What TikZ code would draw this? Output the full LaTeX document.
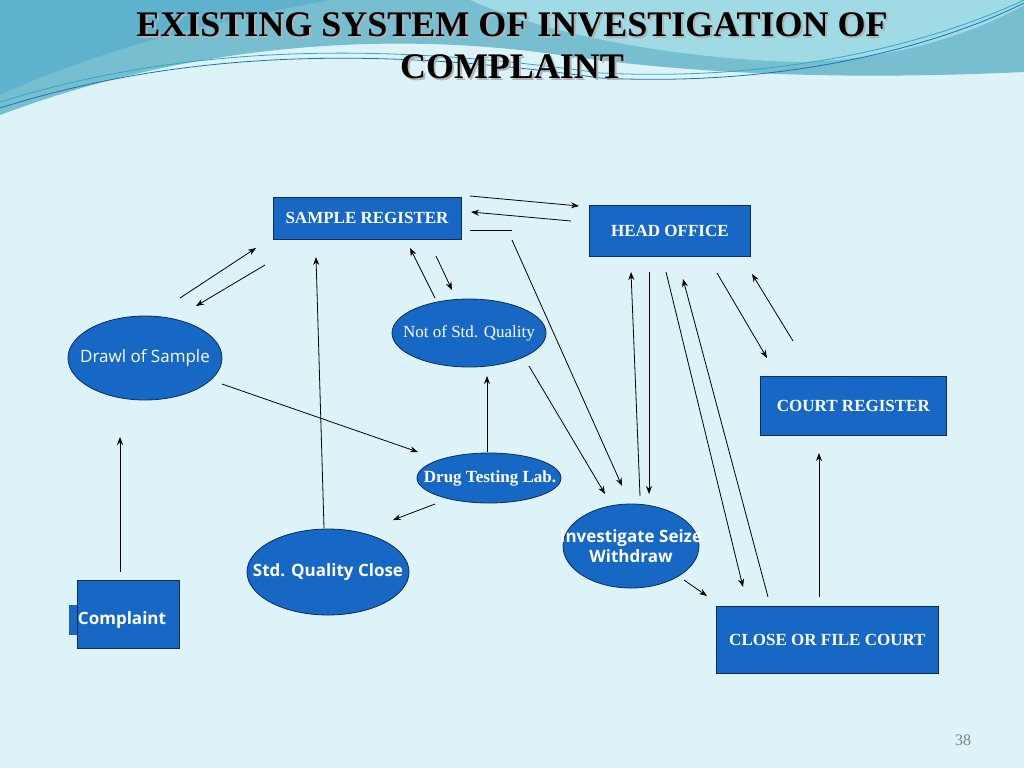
\documentclass[tikz,border=0pt]{standalone}
\usepackage{fontspec}
\setmainfont{Liberation Serif}
\newfontfamily\osans{Open Sans}
\usetikzlibrary{arrows.meta,shapes.geometric}
\definecolor{bg}{HTML}{DDF3F8}
\definecolor{nb}{HTML}{1668C4}
\definecolor{nbd}{HTML}{0D2D5A}
\tikzset{
 box/.style={draw=nbd,fill=nb,rectangle,line width=0.8pt,text=white,font=\fontsize{17}{20}\selectfont\bfseries},
 ell/.style={draw=nbd,fill=nb,ellipse,line width=0.8pt,inner sep=0pt},
 lbl/.style={text=white,align=center},
 ar/.style={-{Stealth[length=8pt,width=6pt]},line width=0.8pt},
 ttl/.style={font=\fontsize{36}{40}\selectfont\bfseries},
}
\begin{document}
\begin{tikzpicture}[x=1pt,y=-1pt]
\fill[bg] (0,0) rectangle (1024,768);
\useasboundingbox (0,0) rectangle (1024,768);
\fill[color={rgb,255:red,118;green,190;blue,208}] (0,0)--(1024,0)--(1024,72) .. controls (850,80) and (700,75) .. (560,55) .. controls (400,32) and (200,40) .. (0,115) -- cycle;
\fill[color={rgb,255:red,160;green,218;blue,228}] (470,0) .. controls (560,40) and (700,60) .. (800,62) .. controls (900,60) and (980,30) .. (1024,5) -- (1024,0) -- cycle;
\fill[color={rgb,255:red,95;green,178;blue,205}] (0,0)--(330,0) .. controls (250,15) and (120,40) .. (0,95) -- cycle;
\draw[color={rgb,255:red,30;green,110;blue,190},line width=0.8pt] (0,108) .. controls (200,45) and (400,50) .. (600,78) .. controls (800,88) and (950,40) .. (1024,3);
\draw[color={rgb,255:red,40;green,170;blue,200},line width=0.8pt] (0,102) .. controls (200,40) and (400,45) .. (600,73) .. controls (800,83) and (950,35) .. (1024,0);
\node[ttl,text=gray!60] at (514,27) {EXISTING SYSTEM OF INVESTIGATION OF};
\node[ttl,text=gray!60] at (514,69) {COMPLAINT};
\node (t1) [ttl] at (512,25) {EXISTING SYSTEM OF INVESTIGATION OF};
\node (t2) [ttl] at (512,67) {COMPLAINT};

\node (sr) [box,minimum width=188pt,minimum height=42pt,anchor=north west] at (273,197) {};
\node (srt) [lbl,font=\fontsize{17}{20}\selectfont\bfseries] at (367,218) {SAMPLE REGISTER};
\node (ho) [box,minimum width=161pt,minimum height=51pt,anchor=north west] at (589,205) {HEAD OFFICE};
\node (cr) [box,minimum width=186pt,minimum height=59pt,anchor=north west] at (760,376) {COURT REGISTER};
\node (cf) [box,minimum width=222pt,minimum height=67pt,anchor=north west] at (716,606) {CLOSE OR FILE COURT};
\fill[nb] (69,605) rectangle (78,635);
\node (cp) [box,minimum width=102pt,minimum height=68pt,anchor=north west] at (77,580) {};
\node (cpt) [lbl,font=\osans\fontsize{17}{20}\selectfont\bfseries] at (122,620) {Complaint};

\node (ds) [ell,minimum width=154pt,minimum height=84pt] at (145,358) {};
\node [lbl,font=\osans\fontsize{17}{20}\selectfont] at (145,358) {Drawl of Sample};
\node (ns) [ell,minimum width=154pt,minimum height=68pt] at (469,333) {};
\node [lbl,font=\fontsize{17}{20}\selectfont] at (469,333) {Not of Std. Quality};
\node (dl) [ell,minimum width=144pt,minimum height=50pt] at (489,478) {};
\node [lbl,font=\fontsize{17}{20}\selectfont\bfseries] at (490,478) {Drug Testing Lab.};
\node (iw) [ell,minimum width=136pt,minimum height=84pt] at (631,546) {};
\node [lbl,font=\osans\fontsize{17}{20}\selectfont\bfseries] at (631,546) {Investigate Seize\\Withdraw};
\node (sq) [ell,minimum width=162pt,minimum height=86pt] at (328,572) {};
\node [lbl,font=\osans\fontsize{17}{20}\selectfont\bfseries] at (328,572) {Std. Quality Close};

\node (pg) [text=gray,font=\fontsize{16}{18}\selectfont] at (963,740) {38};

\foreach \a/\b/\c/\d/\n in {180/298/256/248/1, 265/265/196/306/2, 470/196/579/206/3, 571/221/471/212/4, 512/240/622/486/6, 435/298/410/248/7, 436/256/452/290/8, 222/384/418/452/9, 487/452/487/376/10, 435/504/393/520/11, 324/528/316/257/12, 120/572/120/437/13, 529/366/605/494/14, 640/496/631/272/15, 649/272/649/494/16, 666/272/743/587/17, 768/597/683/279/18, 717/273/767/358/19, 793/341/752/274/20, 684/580/707/596/21, 819/597/819/453/22}{
 \coordinate (s\n) at (\a,\b); \coordinate (e\n) at (\c,\d);
 \draw[ar] (s\n) -- (e\n);
}
\coordinate (s5) at (470,230); \coordinate (e5) at (512,230);
\draw[line width=0.8pt] (s5) -- (e5);
\end{tikzpicture}
\end{document}
